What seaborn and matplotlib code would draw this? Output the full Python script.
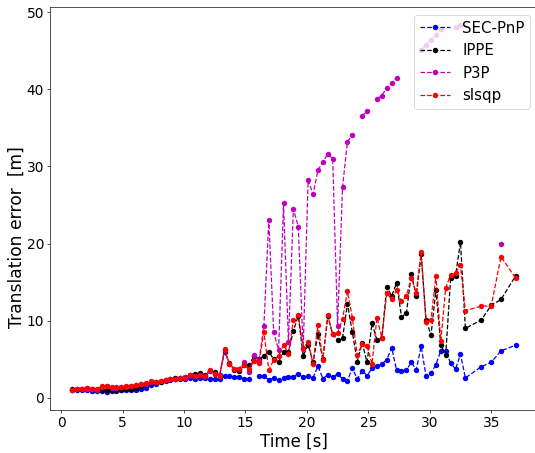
import numpy as np
import pandas as pd
import seaborn as sns
import matplotlib
matplotlib.use("Agg")
import matplotlib.pyplot as plt
from matplotlib.lines import Line2D

nan = np.nan

# === time stamps [s] ===
time_s = [0.9, 1.3, 1.7, 2.1, 2.5, 2.9, 3.3, 3.7, 4.1, 4.5,
          4.9, 5.3, 5.7, 6.1, 6.5, 6.9, 7.3, 7.7, 8.1, 8.5,
          8.9, 9.3, 9.7, 10.1, 10.5, 10.9, 11.3, 11.7, 12.1, 12.5,
          12.9, 13.3, 13.7, 14.1, 14.5, 14.9, 15.3, 15.7, 16.1, 16.5,
          16.9, 17.3, 17.7, 18.1, 18.5, 18.9, 19.3, 19.7, 20.1, 20.5,
          20.9, 21.3, 21.7, 22.1, 22.5, 22.9, 23.3, 23.7, 24.1, 24.5,
          24.9, 25.3, 25.7, 26.1, 26.5, 26.9, 27.3, 27.7, 28.1, 28.5,
          28.9, 29.3, 29.7, 30.1, 30.5, 30.9, 31.3, 31.7, 32.1, 32.5,
          32.9, 34.2, 35.0, 35.8, 37.0]

# === translation errors [m] (nan = no estimate) ===
sec_pnp = [0.95, 0.95, 0.95, 0.95, 0.9, 0.9, 0.85, 0.8, 0.85, 0.9,
           0.95, 1.0, 1.0, 1.05, 1.15, 1.25, 1.6, 1.8, 2.0, 2.2,
           2.3, 2.45, 2.45, 2.5, 2.6, 2.45, 2.55, 2.6, 2.45, 2.45,
           2.5, 2.85, 2.8, 2.75, 2.75, 2.45, 2.45, nan, 2.8, 2.87,
           2.3, 2.6, 2.3, 2.6, 2.75, 2.75, 3.1, 2.66, 2.87, 2.6,
           4.1, 2.5, 2.96, 2.66, 3.1, 2.45, 2.23, 3.83, 2.45, 3.5,
           2.87, 3.83, 4.08, 4.38, 4.94, 6.5, 3.6, 3.5, 3.6, 4.6,
           3.65, 6.66, 2.8, 3.2, 4.3, 6.1, 6.1, 4.47, 3.74, 5.67,
           2.58, 4.04, 4.6, 6.1, 6.83]

ippe = [1.15, 1.2, 1.2, 1.25, 1.1, 1.0, 0.95, 0.95, 1.0, 1.0,
        1.05, 1.1, 1.2, 1.3, 1.5, 1.7, 1.95, 2.0, 2.1, 2.3,
        2.45, 2.55, 2.6, 2.7, 3.0, 3.1, 3.2, 3.0, 3.5, 3.3,
        3.0, 6.0, 4.5, 3.6, 3.5, 4.2, 4.25, 5.45, 5.0, 5.45,
        5.97, 5.0, 4.7, 5.97, 5.97, 8.7, 10.6, 5.45, 6.9, 4.6,
        8.25, 5.0, 10.6, 8.25, 7.47, 7.7, 12.2, 8.5, 4.68, 7.1,
        4.6, 9.66, 7.47, 7.7, 14.4, 13.2, 14.9, 10.5, 11.0, 16.1,
        13.2, 18.6, 10.1, 8.1, 14.0, 6.8, 5.6, 15.5, 15.85, 20.2,
        9.0, 10.1, 12.0, 12.75, 15.85]

p3p = [1.05, 1.15, 1.15, 1.2, 1.1, 1.05, 1.4, 1.5, 1.3, 1.3,
       1.35, 1.45, 1.55, 1.65, 1.75, 1.85, 2.1, 2.0, 2.15, 2.3,
       2.45, 2.5, 2.6, 2.65, 2.9, 2.85, 2.95, 2.85, 3.5, 3.1,
       2.9, 6.2, 4.4, 3.7, 3.7, 4.7, 3.4, 5.5, 4.8, 9.3,
       23.1, 8.5, 6.2, 25.2, 7.2, 24.5, 22.2, 6.3, 28.2, 26.4,
       29.5, 30.6, 31.6, 31.0, 9.3, 27.3, 33.2, 34.1, nan, 36.5,
       37.2, nan, 38.75, 39.2, 40.2, 40.8, 41.5, nan, nan, nan,
       nan, 45.1, 45.8, 46.4, 47.0, 47.8, nan, nan, 48.1, 48.3,
       nan, nan, nan, 20.0, nan]

slsqp = [1.03, 1.16, 1.16, 1.25, 1.12, 1.12, 1.5, 1.59, 1.38, 1.38,
         1.42, 1.5, 1.59, 1.68, 1.77, 1.89, 2.15, 2.02, 2.15, 2.32,
         2.45, 2.49, 2.58, 2.62, 2.92, 2.83, 2.92, 2.83, 3.57, 3.09,
         2.88, 6.3, 4.38, 3.8, 3.8, 4.3, 3.7, 4.8, 4.5, 8.5,
         3.65, 4.9, 5.45, 6.9, 5.7, 10.1, 10.7, 6.4, 7.3, 4.4,
         9.5, 4.9, 10.7, 8.25, 8.38, 10.2, 13.8, 10.4, 5.54, 6.96,
         6.74, 4.38, 10.4, 7.8, 13.6, 12.75, 14.0, 12.5, 13.2, 15.6,
         13.6, 18.85, 9.8, 10.1, 15.85, 7.4, 14.3, 15.9, 16.2, 17.2,
         11.3, 11.9, 11.9, 18.3, 15.5]

methods = ["SEC-PnP", "IPPE", "P3P", "slsqp"]
colors = ["b", "k", "m", "r"]
series = [sec_pnp, ippe, p3p, slsqp]

# drawn at a low dpi so ticks, pads and spines come out thin like the original
DPI = 60
fig = plt.figure(figsize=(535 / DPI, 453 / DPI), dpi=DPI)
ax = fig.add_axes([0.0935, 0.095, 0.912, 0.8895])

handles = []
for name, col, vals in zip(methods, colors, series):
    d = pd.DataFrame({"time": time_s, "err": vals})
    # new segment after every missing value so the dashed line breaks there
    d["seg"] = d["err"].isna().cumsum()
    d = d.dropna()
    sns.lineplot(data=d, x="time", y="err", units="seg", estimator=None,
                 sort=False, ax=ax, color=col, legend=False,
                 linestyle="--", marker="o", markersize=6.5, linewidth=1.5,
                 markeredgewidth=0)
    handles.append(Line2D([], [], color=col, linestyle="--", marker="o",
                          markersize=6.5, linewidth=1.5, markeredgewidth=0,
                          label=name))

ax.set_xlabel("Time [s]", fontsize=20)
ax.set_ylabel("Translation error  [m]", fontsize=20.5)
ax.yaxis.set_label_coords(-0.05, 0.43)
ax.tick_params(labelsize=16.5)
ax.set_xticks([0, 5, 10, 15, 20, 25, 30, 35])
ax.set_yticks([0, 10, 20, 30, 40, 50])
ax.legend(handles=handles, loc="upper right", fontsize=18)

plt.savefig("out.png", dpi=DPI)
